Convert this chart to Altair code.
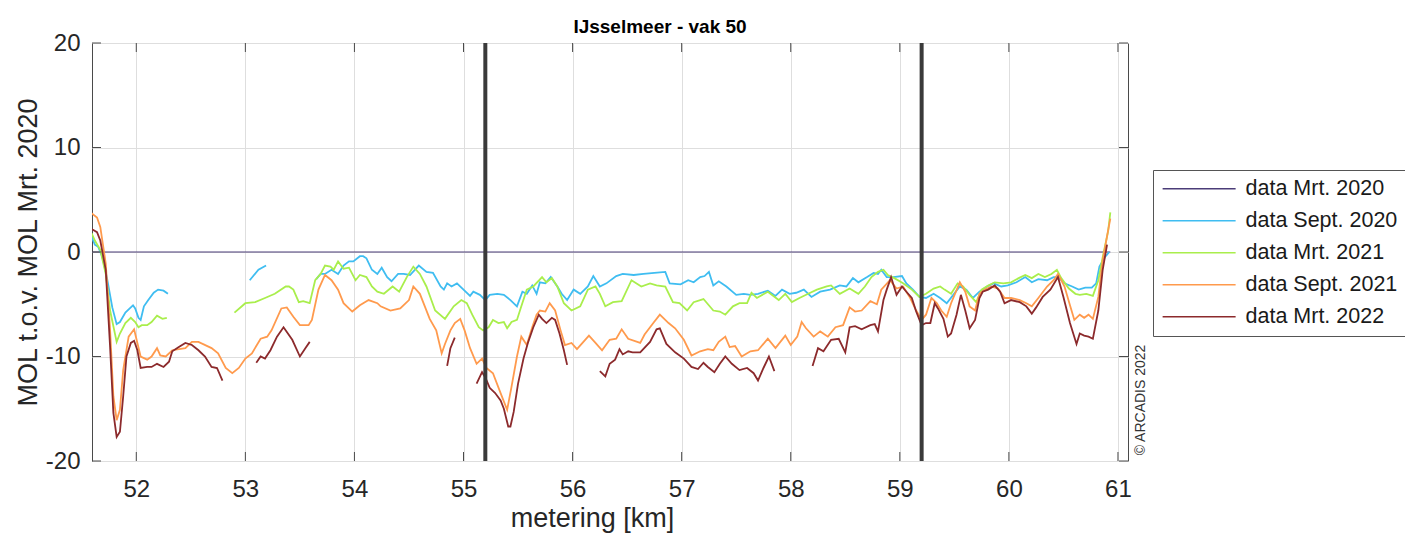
import altair as alt
import pandas as pd

SERIES = ["data Mrt. 2020", "data Sept. 2020", "data Mrt. 2021", "data Sept. 2021", "data Mrt. 2022"]
COLORS = ["#4B3C78", "#3FBDF1", "#A9EE4C", "#FF9A4D", "#8C2A2C"]

# None marks a gap in the measurements
mrt2020_km = [51.59, 60.93]
mrt2020_v = [0.0, 0.0]

sept2020_km = [51.59, 51.62, 51.65, 51.69, 51.73, 51.78, 51.82, 51.85, 51.90, 51.94, 51.97, 51.99, 52.02, 52.04, 52.07, 52.11, 52.16, 52.20, 52.25, 52.29, None,
               53.04, 53.12, 53.19, None,
               53.65, 53.69, 53.73, 53.79, 53.85, 53.90, 53.95, 53.99, 54.05, 54.08, 54.11, 54.16, 54.21, 54.25, 54.30, 54.34, 54.40, 54.45, 54.51, 54.59,
               54.66, 54.72, 54.79, 54.82, 54.85, 54.89, 54.94, 55.00, 55.06, 55.09, 55.15, 55.20, 55.24, 55.31, 55.37, 55.43, 55.49, 55.54, 55.58, 55.63,
               55.67, 55.70, 55.75, 55.80, 55.86, 55.90, 55.95, 56.01, 56.07, 56.14, 56.19, 56.25, 56.31, 56.40, 56.46, 56.56, 56.65, 56.75, 56.85, 56.89,
               56.99, 57.06, 57.11, 57.17, 57.21, 57.25, 57.29, 57.34, 57.41, 57.50, 57.57, 57.63, 57.70, 57.79, 57.86, 57.92, 57.99, 58.05, 58.12, 58.19,
               58.27, 58.36, 58.45, 58.51, 58.57, 58.62, 58.70, 58.76, 58.80, 58.83, 58.88, 58.94, 59.02, 59.06, 59.12, 59.18, 59.24, 59.31, 59.37, 59.43,
               59.49, 59.55, 59.61, 59.67, 59.73, 59.80, 59.86, 59.93, 59.99, 60.07, 60.15, 60.21, 60.27, 60.35, 60.41, 60.45, 60.51, 60.58, 60.64, 60.70,
               60.76, 60.80, 60.83, 60.88, 60.92]
sept2020_v = [1.5, 0.7, 0.5, -0.5, -2.4, -5.3, -6.9, -6.7, -5.8, -5.4, -5.1, -5.4, -6.3, -6.5, -5.2, -4.6, -3.9, -3.6, -3.7, -4.0, None,
              -2.7, -1.7, -1.3, None,
              -2.6, -2.1, -2.1, -1.7, -2.1, -1.3, -0.9, -0.9, -0.4, -0.4, -0.6, -1.7, -2.1, -1.5, -2.4, -2.8, -2.1, -2.1, -2.2, -1.3,
              -1.9, -2.0, -3.3, -3.6, -3.0, -3.3, -3.0, -3.6, -4.2, -3.8, -4.1, -4.6, -4.1, -4.0, -4.1, -4.6, -5.2, -3.8, -4.0, -3.2,
              -4.0, -2.9, -3.0, -2.4, -3.3, -4.0, -4.6, -3.6, -4.0, -3.3, -2.3, -3.3, -3.0, -2.3, -2.1, -2.2, -2.1, -2.0, -1.9, -3.0,
              -3.1, -2.7, -2.9, -2.4, -2.3, -1.9, -3.2, -2.8, -3.3, -4.1, -4.0, -4.1, -4.0, -3.7, -4.2, -3.6, -4.0, -3.9, -3.6, -4.3,
              -3.8, -3.6, -3.2, -3.3, -2.5, -2.9, -2.4, -2.0, -2.1, -1.7, -2.4, -2.4, -2.3, -3.0, -3.6, -4.3, -4.4, -4.0, -4.4, -4.9,
              -4.1, -3.3, -3.6, -4.4, -3.8, -3.3, -3.0, -3.3, -3.2, -2.9, -2.4, -2.9, -2.6, -2.7, -2.4, -2.4, -3.0, -3.3, -3.6, -3.4,
              -3.4, -3.0, -1.4, -0.5, 0.0]

mrt2021_km = [51.59, 51.62, 51.67, 51.72, 51.76, 51.82, 51.85, 51.90, 51.95, 51.99, 52.02, 52.05, 52.10, 52.14, 52.19, 52.24, 52.28, None,
              52.90, 53.00, 53.09, 53.18, 53.27, 53.37, 53.40, 53.44, 53.49, 53.53, 53.59, 53.64, 53.69, 53.73, 53.78, 53.81, 53.85, 53.90, 53.95, 54.01,
              54.05, 54.11, 54.16, 54.21, 54.27, 54.35, 54.41, 54.48, 54.54, 54.60, 54.66, 54.74, 54.83, 54.91, 54.98, 55.03, 55.08, 55.14, 55.18, 55.23,
              55.27, 55.32, 55.37, 55.40, 55.44, 55.49, 55.53, 55.58, 55.64, 55.72, 55.76, 55.81, 55.86, 55.92, 55.99, 56.07, 56.14, 56.21, 56.25, 56.30,
              56.37, 56.45, 56.54, 56.63, 56.71, 56.77, 56.85, 56.92, 56.98, 57.05, 57.11, 57.20, 57.29, 57.35, 57.40, 57.47, 57.53, 57.60, 57.64, 57.69,
              57.79, 57.89, 57.95, 58.01, 58.08, 58.16, 58.24, 58.33, 58.37, 58.45, 58.54, 58.62, 58.68, 58.74, 58.80, 58.85, 58.89, 58.95, 59.03, 59.11,
              59.18, 59.24, 59.31, 59.37, 59.41, 59.47, 59.53, 59.58, 59.64, 59.70, 59.75, 59.81, 59.87, 59.95, 60.02, 60.09, 60.15, 60.21, 60.27, 60.33,
              60.39, 60.44, 60.48, 60.55, 60.61, 60.65, 60.71, 60.77, 60.82, 60.86, 60.91, 60.93]
mrt2021_v = [1.8, 1.1, 0.2, -2.1, -5.6, -8.6, -7.8, -6.8, -6.3, -6.7, -7.2, -7.0, -7.0, -6.7, -6.1, -6.4, -6.3, None,
             -5.8, -4.9, -4.8, -4.4, -4.0, -3.3, -3.3, -3.6, -4.8, -4.7, -4.9, -2.7, -2.1, -1.3, -1.4, -1.7, -0.9, -1.6, -1.5, -2.7,
             -2.2, -2.4, -3.3, -3.8, -4.0, -3.3, -3.8, -2.4, -1.4, -2.1, -3.3, -5.6, -6.4, -5.2, -4.6, -4.9, -6.0, -7.2, -7.5, -7.2,
             -6.5, -6.8, -6.7, -7.3, -6.7, -6.5, -5.2, -3.6, -3.3, -2.4, -2.9, -2.5, -3.3, -4.9, -5.6, -5.2, -3.6, -3.3, -4.0, -5.2,
             -4.8, -4.7, -2.7, -3.3, -3.0, -3.2, -3.3, -4.8, -4.9, -5.6, -4.8, -4.5, -5.6, -5.7, -6.0, -5.2, -4.9, -4.9, -3.9, -4.4,
             -3.8, -4.6, -4.0, -4.8, -4.4, -4.0, -3.6, -3.3, -3.2, -4.0, -3.5, -4.0, -3.3, -2.4, -1.9, -1.7, -2.2, -2.5, -3.0, -3.6,
             -4.3, -4.0, -3.5, -3.3, -3.6, -4.0, -3.0, -3.3, -4.1, -4.8, -3.6, -3.2, -2.9, -3.0, -2.9, -2.5, -2.2, -2.5, -2.1, -2.4,
             -2.1, -1.7, -2.5, -3.5, -4.0, -4.1, -4.0, -4.2, -2.7, -0.5, 2.0, 3.8]

sept2021_km = [51.59, 51.64, 51.67, 51.72, 51.76, 51.79, 51.82, 51.85, 51.88, 51.93, 51.98, 52.01, 52.04, 52.10, 52.14, 52.19, 52.22, 52.27, 52.33, 52.45,
               52.51, 52.57, 52.69, 52.75, 52.82, 52.88, 52.94, 53.00, 53.06, 53.14, 53.20, 53.24, 53.33, 53.38, 53.44, 53.50, 53.58, 53.61, 53.67, 53.73,
               53.79, 53.85, 53.90, 53.98, 54.05, 54.13, 54.21, 54.24, 54.33, 54.42, 54.50, 54.54, 54.60, 54.69, 54.75, 54.80, 54.83, 54.88, 54.92, 54.97,
               55.01, 55.06, 55.12, 55.17, 55.21, 55.27, 55.34, 55.40, 55.44, 55.49, 55.53, 55.58, 55.63, 55.67, 55.70, 55.75, 55.79, 55.84, 55.89, 55.93,
               55.99, 56.04, 56.15, 56.21, 56.27, 56.34, 56.40, 56.45, 56.51, 56.62, 56.66, 56.74, 56.80, 56.88, 56.94, 57.02, 57.09, 57.17, 57.24, 57.29,
               57.34, 57.40, 57.44, 57.49, 57.55, 57.63, 57.70, 57.79, 57.86, 57.95, 58.00, 58.06, 58.10, 58.14, 58.21, 58.27, 58.34, 58.41, 58.48, 58.54,
               58.59, 58.65, 58.73, 58.79, 58.83, 58.91, 58.97, 59.03, 59.09, 59.15, 59.20, 59.24, 59.29, 59.34, 59.38, 59.43, 59.47, 59.55, 59.60, 59.64,
               59.69, 59.73, 59.78, 59.84, 59.90, 59.96, 60.02, 60.10, 60.16, 60.21, 60.27, 60.35, 60.41, 60.45, 60.51, 60.56, 60.60, 60.65, 60.69, 60.73,
               60.77, 60.82, 60.86, 60.91, 60.93]
sept2021_v = [3.7, 3.3, 2.4, -1.1, -7.5, -13.8, -16.1, -15.1, -11.3, -8.1, -7.4, -8.7, -10.0, -10.3, -10.0, -9.2, -9.9, -10.0, -9.4, -9.2,
              -8.6, -8.6, -9.2, -9.7, -11.1, -11.6, -11.1, -10.2, -9.7, -8.3, -8.1, -7.5, -5.4, -5.3, -6.2, -7.0, -7.0, -6.5, -3.6, -2.2,
              -2.7, -3.6, -4.9, -5.7, -5.1, -4.6, -4.9, -5.2, -5.6, -5.4, -4.6, -3.3, -4.0, -6.4, -7.5, -9.7, -8.8, -7.5, -6.8, -6.4,
              -7.5, -9.2, -10.7, -10.2, -11.1, -11.6, -13.5, -15.1, -12.9, -10.0, -8.1, -8.9, -7.2, -6.0, -5.6, -5.7, -4.9, -5.6, -7.5, -8.9,
              -8.7, -9.3, -8.0, -8.7, -9.4, -8.4, -8.3, -7.4, -8.3, -8.7, -7.9, -6.8, -6.0, -6.8, -7.3, -8.4, -9.9, -9.5, -9.3, -9.4,
              -8.6, -8.1, -9.1, -9.0, -10.0, -9.5, -9.4, -8.3, -9.2, -8.0, -8.9, -8.1, -6.7, -7.3, -8.1, -7.6, -8.1, -7.2, -7.0, -5.3,
              -5.7, -5.6, -4.7, -5.0, -3.6, -2.7, -3.5, -3.3, -4.3, -5.6, -6.5, -6.0, -4.4, -4.9, -5.6, -6.2, -4.9, -2.9, -3.8, -5.2,
              -5.6, -4.0, -3.6, -3.3, -3.5, -4.4, -4.4, -4.6, -4.9, -5.2, -4.4, -3.3, -2.7, -2.1, -3.3, -5.1, -6.5, -6.0, -6.3, -6.0,
              -6.4, -4.3, -0.8, 2.1, 3.2]

mrt2022_km = [51.59, 51.64, 51.67, 51.72, 51.76, 51.79, 51.82, 51.85, 51.88, 51.91, 51.95, 51.98, 52.01, 52.04, 52.10, 52.14, 52.19, 52.25, 52.30, 52.33,
              52.39, 52.45, 52.51, 52.57, 52.63, 52.69, 52.74, 52.79, None,
              53.10, 53.14, 53.18, 53.23, 53.29, 53.35, 53.43, 53.50, 53.55, 53.59, None,
              54.85, 54.88, 54.92, None,
              55.12, 55.17, 55.20, 55.24, 55.29, 55.34, 55.37, 55.41, 55.43, 55.46, 55.50, 55.55, 55.59, 55.64, 55.69, 55.72, 55.76, 55.81, 55.84, 55.88,
              55.92, 55.95, None,
              56.25, 56.30, 56.34, 56.39, 56.43, 56.46, 56.51, 56.55, 56.62, 56.71, 56.77, 56.80, 56.86, 56.94, 57.02, 57.09, 57.15, 57.20, 57.24, 57.30,
              57.35, 57.40, 57.46, 57.53, 57.60, 57.66, 57.70, 57.75, 57.80, 57.85, None,
              58.20, 58.25, 58.30, 58.37, 58.44, 58.50, 58.54, 58.59, 58.65, 58.73, 58.77, 58.80, 58.85, 58.88, 58.92, 58.97, 59.02, 59.06, 59.11, 59.15,
              59.20, 59.24, 59.28, 59.32, 59.35, 59.40, 59.44, 59.47, 59.52, 59.56, 59.60, 59.64, 59.69, 59.73, 59.76, 59.81, 59.87, 59.92, 59.96, 60.02,
              60.10, 60.16, 60.21, 60.25, 60.31, 60.38, 60.45, 60.50, 60.56, 60.62, 60.65, 60.69, 60.73, 60.77, 60.82, 60.86, 60.90]
mrt2022_v = [2.2, 1.9, 1.1, -1.7, -9.1, -15.4, -17.7, -17.2, -13.8, -10.0, -8.7, -8.5, -9.4, -11.1, -11.0, -11.0, -10.7, -11.0, -10.5, -9.5,
             -9.1, -8.7, -8.9, -9.4, -10.0, -11.0, -11.1, -12.3, None,
             -10.6, -10.0, -10.2, -9.4, -8.1, -7.2, -8.4, -10.0, -9.2, -8.6, None,
             -10.9, -9.2, -8.2, None,
             -12.6, -11.5, -12.0, -13.0, -13.5, -14.2, -15.0, -16.7, -16.7, -15.3, -12.6, -10.2, -8.7, -7.2, -6.0, -6.4, -6.8, -6.3, -6.5, -7.8,
             -9.4, -10.8, None,
             -11.4, -11.9, -10.7, -10.3, -9.3, -9.8, -9.5, -9.6, -9.6, -8.6, -7.4, -7.3, -8.8, -9.6, -10.2, -11.0, -11.2, -10.6, -11.0, -11.5,
             -10.7, -10.0, -10.7, -11.3, -11.1, -11.6, -12.3, -11.1, -10.0, -11.4, None,
             -10.9, -9.2, -9.5, -8.4, -8.3, -9.6, -7.2, -7.1, -7.4, -7.0, -6.9, -7.6, -4.6, -3.6, -2.4, -4.1, -3.3, -3.8, -4.4, -5.7,
             -7.0, -6.8, -6.8, -4.9, -5.4, -6.4, -8.1, -7.8, -6.0, -4.1, -5.6, -7.3, -6.5, -4.4, -3.8, -3.6, -3.2, -3.8, -4.9, -4.6,
             -4.8, -5.2, -5.9, -5.3, -4.3, -3.6, -2.4, -4.3, -6.8, -8.8, -7.8, -8.0, -8.1, -8.3, -5.6, -1.7, 0.7]

x_ticks = [52, 53, 54, 55, 56, 57, 58, 59, 60, 61]
y_ticks = [-20, -10, 0, 10, 20]
section_km = [55.2, 59.2]

W, H = 1036, 418
FONT = "Liberation Sans"

all_series = [
    (SERIES[0], mrt2020_km, mrt2020_v, 1.2),
    (SERIES[1], sept2020_km, sept2020_v, 1.8),
    (SERIES[2], mrt2021_km, mrt2021_v, 1.8),
    (SERIES[3], sept2021_km, sept2021_v, 1.8),
    (SERIES[4], mrt2022_km, mrt2022_v, 1.8),
]

x_enc = alt.X("km:Q", scale=alt.Scale(domain=[51.594, 61.092], nice=False, zero=False),
              axis=alt.Axis(values=x_ticks, labelExpr="'' + datum.value", title="metering [km]"))
y_enc = alt.Y("v:Q", scale=alt.Scale(domain=[-20, 20], nice=False),
              axis=alt.Axis(values=y_ticks, labelExpr="'' + datum.value", title="MOL t.o.v. MOL Mrt. 2020"))
color_enc = alt.Color("series:N", scale=alt.Scale(domain=SERIES, range=COLORS),
                      legend=alt.Legend(title=None, orient="none", legendX=1061, legendY=127,
                                        symbolType="M-1,0H7", symbolSize=333, symbolStrokeWidth=1.6,
                                        labelFontSize=21.5, labelFont=FONT, labelColor="#1a1a1a",
                                        labelOffset=63, rowPadding=9, padding=8,
                                        fillColor="white", strokeColor="#555555"))

layers = []
for name, kms, vs, sw in all_series:
    assert len(kms) == len(vs), name
    rows = []
    seg = 0
    for k, v in zip(kms, vs):
        if k is None:
            seg += 1
            continue
        rows.append({"series": name, "km": k, "v": v, "seg": f"{name}-{seg}"})
    df = pd.DataFrame(rows)
    layers.append(
        alt.Chart(df).mark_line(strokeWidth=sw, clip=True).encode(
            x=x_enc, y=y_enc, color=color_enc, detail="seg:N", order="km:Q"
        )
    )

sections = alt.Chart(pd.DataFrame({"km": section_km})).mark_rule(color="#3a3a3a", strokeWidth=4).encode(x="km:Q")

tick_x_df = pd.DataFrame({"km": x_ticks})
tick_y_df = pd.DataFrame({"v": y_ticks})
tick_style = dict(color="#4a4a4a", strokeWidth=1)
ticks = [
    alt.Chart(tick_x_df).mark_rule(**tick_style).encode(x="km:Q", y=alt.value(H), y2=alt.value(H - 9)),
    alt.Chart(tick_x_df).mark_rule(**tick_style).encode(x="km:Q", y=alt.value(0), y2=alt.value(9)),
    alt.Chart(tick_y_df).mark_rule(**tick_style).encode(y="v:Q", x=alt.value(0), x2=alt.value(9)),
    alt.Chart(tick_y_df).mark_rule(**tick_style).encode(y="v:Q", x=alt.value(W - 9), x2=alt.value(W)),
]

copyright_txt = alt.Chart(pd.DataFrame({"t": ["© ARCADIS 2022"]})).mark_text(
    angle=270, fontSize=14, font=FONT, color="#333333", align="center", baseline="middle"
).encode(text="t:N", x=alt.value(1049), y=alt.value(357))

chart = alt.layer(*layers, sections, *ticks, copyright_txt).properties(
    width=W, height=H,
    title=alt.TitleParams("IJsselmeer - vak 50", font=FONT, fontSize=19,
                          fontWeight="bold", anchor="middle", dx=50, offset=-6, color="#000000"),
    padding={"left": 92, "top": 43, "right": 1405 - 92 - W, "bottom": 537 - 43 - H},
    autosize=alt.AutoSizeParams(type="none"),
    background="white",
).configure_view(
    stroke="#4a4a4a", strokeWidth=1
).configure_axis(
    labelFont=FONT, labelFontSize=24, labelColor="#262626",
    titleFont=FONT, titleFontSize=27, titleFontWeight="normal", titleColor="#262626",
    grid=True, gridColor="#dedede", gridWidth=1,
    ticks=False, domain=False,
).configure_axisX(
    labelPadding=16, titlePadding=4, titleX=500, titleFontSize=27
).configure_axisY(
    labelPadding=12, titlePadding=3
)

chart.save("out.html", embed_options={"renderer": "svg", "actions": False})
